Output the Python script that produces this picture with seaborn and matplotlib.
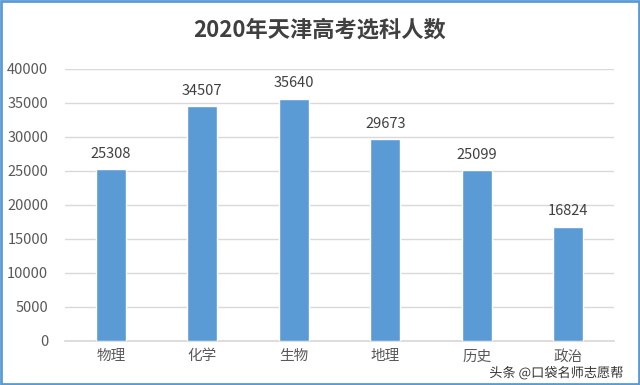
import matplotlib
matplotlib.use("Agg")
import matplotlib.pyplot as plt
import matplotlib.patheffects as pe
import seaborn as sns
import pandas as pd

categories = ["物理", "化学", "生物", "地理", "历史", "政治"]
values = [25308, 34507, 35640, 29673, 25099, 16824]
yticks = [0, 5000, 10000, 15000, 20000, 25000, 30000, 35000, 40000]
title = "2020年天津高考选科人数"
watermark = "头条 @口袋名师志愿帮"

sns.set_theme(style="white")
plt.rcParams['font.family'] = ['Noto Sans CJK SC', 'DejaVu Sans']

df = pd.DataFrame({"科目": categories, "人数": values})

fig = plt.figure(figsize=(6.4, 3.85), dpi=100)
ax = fig.add_axes([65/640, 1 - 341/385, (614-65)/640, (341-69)/385])

sns.barplot(data=df, x="科目", y="人数", color="#5B9BD5", width=0.33,
            saturation=1, ax=ax, zorder=3)

ax.set_ylim(0, 40000)
ax.set_yticks(yticks)
ax.set_yticklabels([str(v) for v in yticks])
ax.yaxis.grid(True, color="#D9D9D9", linewidth=1, zorder=0)
ax.set_axisbelow(True)
for s in ["top", "right", "left"]:
    ax.spines[s].set_visible(False)
ax.spines["bottom"].set_color("#D9D9D9")
ax.tick_params(axis="both", length=0, colors="#595959", labelsize=10.5)
ax.tick_params(axis="x", pad=6)
ax.tick_params(axis="y", pad=12)
ax.set_xlabel("")
ax.set_ylabel("")

for c in ax.containers:
    ax.bar_label(c, labels=[str(v) for v in values], padding=6,
                 color="#404040", fontsize=10.5)

fig.text(0.5, 1 - 30/385, title, ha="center", va="center", fontsize=16,
         fontweight="bold", color="#404040")

fig.text(624/640, 1 - 373/385, watermark, ha="right", va="center",
         fontsize=9.5, color="#333333",
         path_effects=[pe.withStroke(linewidth=3, foreground="white")])

border = plt.Rectangle((0.002, 0.003), 0.996, 0.994, transform=fig.transFigure,
                       fill=False, edgecolor="#5B9BD5", linewidth=2)
fig.patches.append(border)

fig.savefig("out.png", dpi=100)
